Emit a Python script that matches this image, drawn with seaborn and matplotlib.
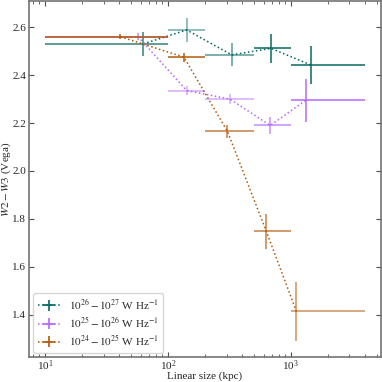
import numpy as np
import matplotlib
matplotlib.use('Agg')
import matplotlib.pyplot as plt
import seaborn as sns
from matplotlib.colors import to_rgba

# =============================================================================
# Data
# =============================================================================
bin_edges = [10, 100, 200, 500, 1000, 4000]

labels = [r'$10^{26}-10^{27}$ W Hz$^{-1}$',
          r'$10^{25}-10^{26}$ W Hz$^{-1}$',
          r'$10^{24}-10^{25}$ W Hz$^{-1}$']

hi_x = [63, 142, 330, 690, 1450]
hi_y = [2.531, 2.589, 2.485, 2.512, 2.443]
hi_yerr = [0.05, 0.05, 0.048, 0.06, 0.08]

mid_x = [57, 142, 320, 680, 1320]
mid_y = [2.561, 2.336, 2.300, 2.190, 2.295]
mid_yerr = [0.016, 0.02, 0.022, 0.037, 0.09]

lo_x = [41, 135, 305, 630, 1110]
lo_y = [2.561, 2.475, 2.165, 1.749, 1.413]
lo_yerr = [0.01, 0.018, 0.028, 0.073, 0.125]

colors = ['#01665e', '#b366ff', '#b35806']
alphas = [[0.75, 0.5, 0.6, 0.9, 0.9],
          [0.7, 0.5, 0.5, 0.7, 0.9],
          [0.9, 0.9, 0.7, 0.7, 0.6]]

# =============================================================================
# Plot
# =============================================================================
sns.set_style('ticks')
plt.rcParams['font.family'] = ['Liberation Serif', 'DejaVu Serif']
plt.rcParams['mathtext.fontset'] = 'stix'

fig = plt.figure(figsize=(3.82, 3.82), dpi=100)
ax = fig.add_axes([0.076, 0.065, 0.921, 0.933])

series = [(hi_x, hi_y, hi_yerr), (mid_x, mid_y, mid_yerr), (lo_x, lo_y, lo_yerr)]
edges = np.array(bin_edges, dtype=float)
for (x, y, yerr), col, alp, lab in zip(series, colors, alphas, labels):
    x = np.array(x, dtype=float)
    xerr = [x - edges[:-1], edges[1:] - x]
    ecols = [to_rgba(col, a) for a in alp]
    sns.lineplot(x=x, y=y, ax=ax, color=col, linestyle=':', lw=1.1,
                 legend=False)
    ax.errorbar(x, y, yerr=yerr, xerr=xerr, fmt='none', ecolor=ecols,
                elinewidth=1.2, capsize=0)
    # legend proxy
    ax.errorbar([], [], yerr=[], xerr=[], fmt=':', color=col, ecolor=col,
                elinewidth=1.2, lw=1.1, label=lab)

ax.set_xscale('log')
ax.set_xlim(7.4, 5400)
ax.set_ylim(1.222, 2.711)
ax.set_yticks([1.4, 1.6, 1.8, 2.0, 2.2, 2.4, 2.6])
ax.tick_params(which='both', direction='in', top=True, right=True,
               labelsize=8, color='0.3')
ax.tick_params(axis='x', pad=1)
ax.tick_params(axis='y', pad=2)
ax.set_xlabel('Linear size (kpc)', fontsize=8, labelpad=-1)
ax.set_ylabel(r'$W2 - W3$ (Vega)', fontsize=8, labelpad=-0.5)
for sp in ax.spines.values():
    sp.set_color('0.45')
    sp.set_linewidth(1.2)

ax.legend(loc='lower left', fontsize=8, frameon=True, handlelength=2.0,
          borderaxespad=0.4, labelspacing=0.3)

fig.savefig('out.png', dpi=100)
